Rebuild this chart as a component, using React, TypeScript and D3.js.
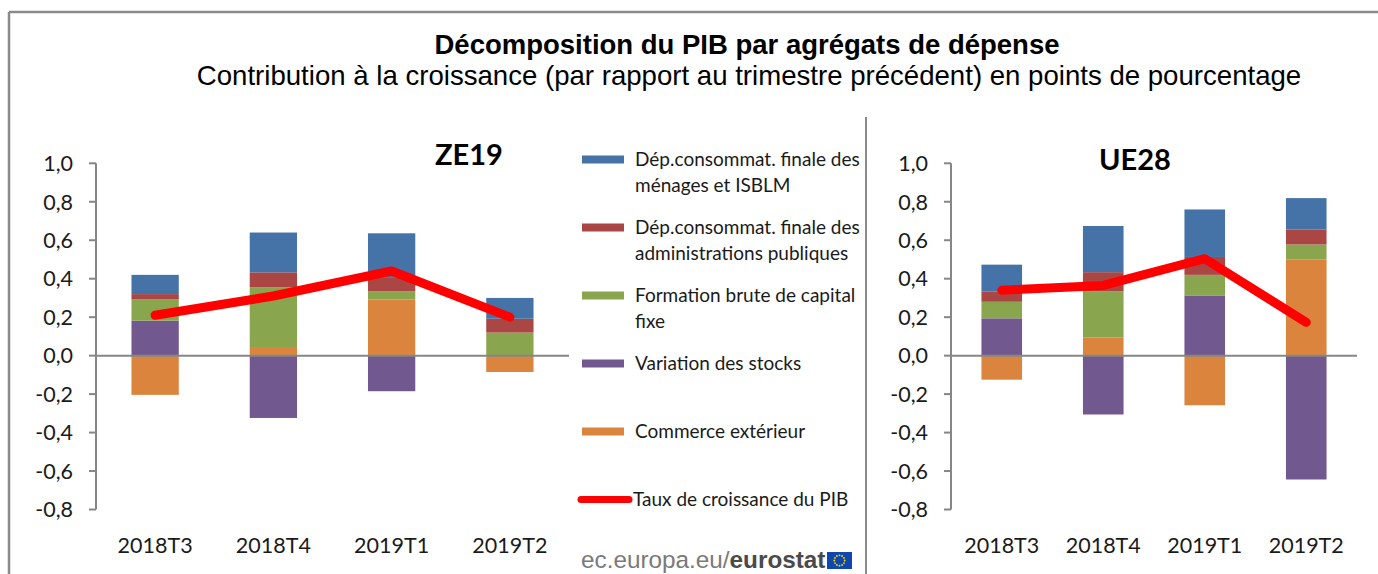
import React from 'react';
import * as d3 from 'd3';

// ---------- DATA ----------
const categories = ['2018T3', '2018T4', '2019T1', '2019T2'];
const yTicks = [1.0, 0.8, 0.6, 0.4, 0.2, 0.0, -0.2, -0.4, -0.6, -0.8];

const seriesKeys = ['menages', 'admin', 'fbcf', 'stocks', 'commerce'];
const seriesLabels = [
  ['Dép.consommat. finale des', 'ménages et ISBLM'],
  ['Dép.consommat. finale des', 'administrations publiques'],
  ['Formation brute de capital', 'fixe'],
  ['Variation des stocks'],
  ['Commerce extérieur'],
];
const lineLabel = 'Taux de croissance du PIB';
const seriesColors = ['#4572A7', '#AA4643', '#89A54E', '#71588F', '#DB843D'];
const lineColor = '#FF0000';

// ZE19
const ze19Menages = [0.10, 0.207, 0.232, 0.108];
const ze19Admin = [0.028, 0.078, 0.07, 0.072];
const ze19Fbcf = [0.11, 0.315, 0.042, 0.12];
const ze19Stocks = [0.182, -0.324, -0.185, 0.0];
const ze19Commerce = [-0.204, 0.04, 0.292, -0.085];
const ze19Pib = [0.21, 0.31, 0.44, 0.20];

// UE28
const ue28Menages = [0.139, 0.24, 0.247, 0.164];
const ue28Admin = [0.054, 0.10, 0.093, 0.077];
const ue28Fbcf = [0.086, 0.24, 0.107, 0.079];
const ue28Stocks = [0.194, -0.306, 0.313, -0.644];
const ue28Commerce = [-0.125, 0.094, -0.258, 0.499];
const ue28Pib = [0.34, 0.365, 0.504, 0.173];

const title = 'Décomposition du PIB par agrégats de dépense';
const subtitle = 'Contribution à la croissance (par rapport au trimestre précédent) en points de pourcentage';

// ---------- HELPERS ----------
const locale = d3.formatLocale({ decimal: ',', thousands: ' ', grouping: [3], currency: ['', '€'], minus: '-' });
const fmt = locale.format('.1f');

function buildRows(m: number[], a: number[], f: number[], s: number[], c: number[]) {
  return categories.map((cat, i) => ({ cat, menages: m[i], admin: a[i], fbcf: f[i], stocks: s[i], commerce: c[i] }));
}

const stackOrder = ['commerce', 'stocks', 'fbcf', 'admin', 'menages'];

const AXIS = '#868686';
const LABEL_FONT = 'Lato, "Open Sans", sans-serif';

function Panel({ rows, pib, name, x0, x1, nameX, nameY }: any) {
  const y = d3.scaleLinear().domain([-0.8, 1.0]).range([509.5, 163.3]);
  const x = d3.scaleBand().domain(categories).range([x0, x1]).paddingInner(0.6).paddingOuter(0.3);
  const stack = d3.stack<any>().keys(stackOrder).offset(d3.stackOffsetDiverging);
  const stacked = stack(rows);
  const line = d3.line<number>()
    .x((_, i) => (x(categories[i]) as number) + x.bandwidth() / 2)
    .y((d) => y(d));
  return (
    <g>
      {stacked.map((layer) => {
        const color = seriesColors[seriesKeys.indexOf(layer.key)];
        return layer.map((d, i) => {
          const v0 = d[0], v1 = d[1];
          if (Math.abs(v1 - v0) < 1e-9) return null;
          return (
            <rect key={layer.key + i}
              x={x(categories[i])}
              width={x.bandwidth()}
              y={y(Math.max(v0, v1))}
              height={Math.abs(y(v0) - y(v1))}
              fill={color} />
          );
        });
      })}
      {/* y axis */}
      <line x1={x0} x2={x0} y1={y(1.0)} y2={y(-0.8)} stroke={AXIS} strokeWidth={2} />
      {yTicks.map((t) => (
        <g key={t}>
          <line x1={x0 - 7} x2={x0} y1={y(t)} y2={y(t)} stroke={AXIS} strokeWidth={2} />
          <text x={x0 - 23} y={y(t)} dy="0.36em" textAnchor="end" fontFamily={LABEL_FONT} fontSize={21.5} fill="#1a1a1a">{fmt(t)}</text>
        </g>
      ))}
      {/* zero line */}
      <line x1={x0} x2={x1} y1={y(0)} y2={y(0)} stroke={AXIS} strokeWidth={2} />
      {/* x labels */}
      {categories.map((c) => (
        <text key={c} x={(x(c) as number) + x.bandwidth() / 2} y={552.5} textAnchor="middle" fontFamily={LABEL_FONT} fontSize={21.5} fill="#1a1a1a">{c}</text>
      ))}
      {/* growth line */}
      <path d={line(pib) as string} fill="none" stroke={lineColor} strokeWidth={9} strokeLinecap="round" strokeLinejoin="round" />
      <text x={nameX} y={nameY} textAnchor="middle" fontFamily={LABEL_FONT} fontWeight={700} fontSize={29} fill="#000">{name}</text>
    </g>
  );
}

function Legend() {
  const top = 159.5;
  const step = 68;
  return (
    <g fontFamily={LABEL_FONT} fontSize={19} fill="#1a1a1a">
      {seriesLabels.map((lines, i) => (
        <g key={i}>
          <rect x={582} y={top + i * step - 4} width={42} height={8} fill={seriesColors[i]} />
          {lines.map((l, j) => (
            <text key={j} x={635} y={top + i * step + j * 26} dy="0.36em">{l}</text>
          ))}
        </g>
      ))}
      <line x1={581} x2={629} y1={top + 5 * step} y2={top + 5 * step} stroke={lineColor} strokeWidth={7} strokeLinecap="round" />
      <text x={633} y={top + 5 * step} dy="0.36em">{lineLabel}</text>
    </g>
  );
}

function EuFlag({ x, y }: any) {
  const stars = d3.range(12).map((i) => {
    const a = (i / 12) * Math.PI * 2;
    return [x + 12.5 + Math.cos(a) * 5.2, y + 8.5 + Math.sin(a) * 5.2];
  });
  return (
    <g>
      <rect x={x} y={y} width={25} height={17} fill="#0F47AF" />
      {stars.map((s, i) => <circle key={i} cx={s[0]} cy={s[1]} r={0.9} fill="#FFDD00" />)}
    </g>
  );
}

export default function App() {
  const ze = buildRows(ze19Menages, ze19Admin, ze19Fbcf, ze19Stocks, ze19Commerce);
  const ue = buildRows(ue28Menages, ue28Admin, ue28Fbcf, ue28Stocks, ue28Commerce);
  return (
    <svg width={1378} height={574} style={{ position: 'absolute', left: 0, top: 0, background: '#fff' }}>
      <rect x={0} y={0} width={1378} height={574} fill="#fff" />
      {/* frame */}
      <line x1={9} x2={1378} y1={12} y2={12} stroke="#8a8a8a" strokeWidth={2.5} />
      <line x1={9} x2={9} y1={12} y2={574} stroke="#8a8a8a" strokeWidth={2.5} />
      <line x1={866} x2={866} y1={117} y2={574} stroke="#8a8a8a" strokeWidth={2} />
      <text x={747} y={54} textAnchor="middle" fontFamily='"Liberation Sans", Arial, sans-serif' fontWeight={700} fontSize={27.5} fill="#000">{title}</text>
      <text x={749} y={85} textAnchor="middle" fontFamily='"Liberation Sans", Arial, sans-serif' fontSize={27.6} fill="#000">{subtitle}</text>
      <Panel rows={ze} pib={ze19Pib} name="ZE19" x0={96} x1={569} nameX={469} nameY={165} />
      <Panel rows={ue} pib={ue28Pib} name="UE28" x0={951} x1={1357} nameX={1135} nameY={170} />
      <Legend />
      <text x={581} y={568} fontFamily='"Liberation Sans", Arial, sans-serif' fontSize={24.3}>
        <tspan fill="#7a7a7a">ec.europa.eu/</tspan>
        <tspan fill="#4a4a4a" fontWeight={700}>eurostat</tspan>
      </text>
      <EuFlag x={827} y={552} />
    </svg>
  );
}
